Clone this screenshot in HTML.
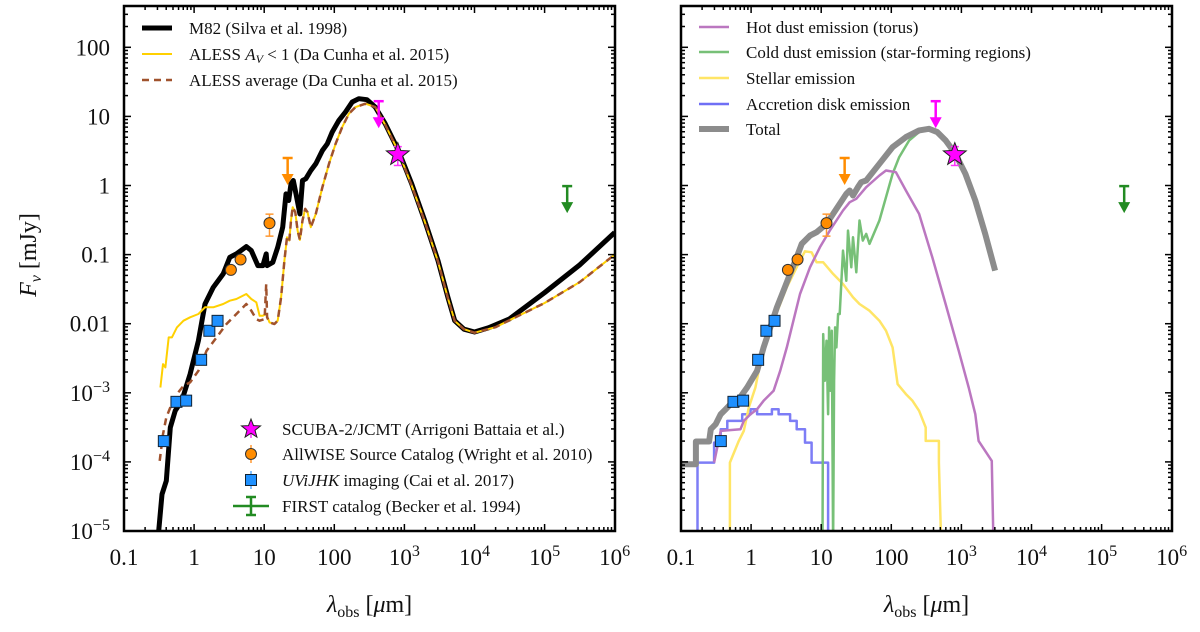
<!DOCTYPE html>
<html><head><meta charset="utf-8"><style>
html,body{margin:0;padding:0;background:#fff;}
svg text{font-family:"Liberation Serif",serif;fill:#111;}
</style></head><body>
<svg id="chart" width="1200" height="627" viewBox="0 0 1200 627" xmlns="http://www.w3.org/2000/svg"></svg>
<script>
// ===== data (log10 wavelength [um], log10 flux [mJy]) =====
const m82LogLam = [-0.505,-0.458,-0.396,-0.34,-0.269,-0.175,-0.057,0.061,0.156,0.274,0.415,0.509,0.604,0.745,0.816,0.91,0.981,1.028,1.042,1.123,1.193,1.264,1.311,1.349,1.382,1.415,1.453,1.509,1.547,1.594,1.665,1.736,1.83,1.9,1.97,2.066,2.16,2.255,2.35,2.467,2.585,2.726,2.915,3.104,3.29,3.48,3.62,3.717,3.85,4.0,4.2,4.5,5.0,5.5,6.0];
const m82LogF = [-5,-4.469,-4.275,-3.502,-3.261,-3.116,-2.729,-2.246,-1.715,-1.473,-1.28,-1.039,-0.99,-0.884,-0.942,-1.159,-1.159,-0.99,-1.159,-1.111,-0.894,-0.604,-0.121,-0.217,0.024,0.072,-0.121,-0.411,0.072,0.097,0.217,0.314,0.507,0.604,0.773,0.942,1.063,1.208,1.256,1.242,1.135,0.894,0.507,0.024,-0.507,-1.087,-1.618,-1.957,-2.08,-2.12,-2.06,-1.93,-1.55,-1.15,-0.68];
const alessLowLogLam = [-0.481,-0.443,-0.41,-0.363,-0.316,-0.245,-0.151,-0.057,0.061,0.156,0.274,0.415,0.509,0.604,0.745,0.816,0.887,0.934,0.981,1.028,1.075,1.146,1.193,1.241,1.288,1.325,1.358,1.382,1.406,1.443,1.476,1.509,1.547,1.585,1.618,1.665,1.736,1.83,1.925,2.019,2.113,2.208,2.302,2.443,2.585,2.726,2.915,3.104,3.29,3.48,3.62,3.717,3.85,4.0,4.3,4.5,5.0,5.5,6.0];
const alessLowLogF = [-2.923,-2.585,-2.633,-2.198,-2.198,-2.053,-1.957,-1.908,-1.86,-1.763,-1.763,-1.715,-1.667,-1.643,-1.57,-1.643,-1.691,-1.884,-1.884,-1.86,-1.981,-2.005,-1.957,-1.618,-1.087,-0.749,-0.797,-0.507,-0.314,-0.386,-0.652,-0.787,-0.507,-0.338,-0.386,-0.604,-0.411,-0.024,0.314,0.604,0.845,1.039,1.135,1.184,1.135,0.88,0.49,0.0,-0.52,-1.1,-1.63,-1.96,-2.08,-2.13,-2.05,-1.95,-1.7,-1.4,-1.0];
const alessAvgLogLam = [-0.491,-0.443,-0.396,-0.34,-0.245,-0.151,-0.057,0.061,0.179,0.321,0.462,0.604,0.745,0.816,0.887,0.934,1.005,1.028,1.042,1.075,1.146,1.193,1.241,1.288,1.325,1.358,1.382,1.406,1.443,1.476,1.509,1.547,1.585,1.618,1.665,1.736,1.83,1.925,2.019,2.113,2.208,2.302,2.443,2.585,2.726,2.915,3.104,3.29,3.48,3.62,3.717,3.85,4.0,4.3,4.5,5.0,5.5,6.0];
const alessAvgLogF = [-3.986,-3.599,-3.357,-3.213,-3.019,-2.899,-2.85,-2.681,-2.391,-2.198,-2.005,-1.86,-1.715,-1.812,-1.933,-1.957,-1.933,-1.425,-1.908,-1.981,-2.005,-1.957,-1.618,-1.087,-0.749,-0.797,-0.507,-0.314,-0.386,-0.652,-0.787,-0.507,-0.338,-0.386,-0.604,-0.411,-0.024,0.314,0.604,0.845,1.039,1.135,1.184,1.135,0.88,0.49,0.0,-0.52,-1.1,-1.63,-1.96,-2.08,-2.13,-2.05,-1.95,-1.7,-1.4,-1.0];
const totalLogLam = [-1,-0.788,-0.788,-0.764,-0.599,-0.575,-0.505,-0.434,-0.363,-0.292,-0.175,-0.057,0.085,0.179,0.274,0.368,0.462,0.557,0.651,0.722,0.84,0.934,1.075,1.264,1.358,1.406,1.453,1.524,1.571,1.642,1.83,2.019,2.208,2.396,2.538,2.656,2.774,2.915,3.057,3.198,3.34,3.481];
const totalLogF = [-4.034,-4.034,-3.705,-3.705,-3.705,-3.527,-3.454,-3.309,-3.237,-3.164,-3.092,-2.923,-2.681,-2.343,-2.053,-1.763,-1.522,-1.28,-1.039,-0.845,-0.725,-0.676,-0.556,-0.266,-0.121,-0.072,-0.145,-0.024,0.048,0.072,0.314,0.556,0.7,0.797,0.821,0.773,0.652,0.459,0.169,-0.217,-0.7,-1.232];
const hotLogLam = [-0.528,-0.434,-0.151,-0.104,-0.009,0.085,0.179,0.321,0.415,0.509,0.604,0.698,0.84,0.981,1.123,1.311,1.406,1.5,1.642,1.83,1.925,2.066,2.208,2.396,2.585,2.774,2.962,3.104,3.198,3.245,3.434,3.434,3.458];
const hotLogF = [-4.01,-3.551,-3.527,-3.406,-3.309,-3.237,-3.116,-2.971,-2.681,-2.343,-1.957,-1.57,-1.184,-0.894,-0.652,-0.362,-0.242,-0.193,-0.024,0.145,0.217,0.193,-0.072,-0.411,-1.039,-1.715,-2.391,-2.923,-3.309,-3.696,-3.986,-4.01,-5.2];
const coldLogLam = [1.019,1.028,1.052,1.075,1.099,1.113,1.132,1.151,1.17,1.184,1.198,1.217,1.241,1.264,1.311,1.358,1.382,1.429,1.453,1.5,1.547,1.594,1.642,1.689,1.83,1.925,2.019,2.113,2.255,2.396,2.491,2.538,2.656,2.774,2.915,3.057,3.198,3.34,3.481];
const coldLogF = [-5.2,-2.15,-2.826,-2.246,-3.309,-2.053,-2.971,-2.101,-5.2,-2.826,-2.053,-2.343,-1.86,-1.86,-0.942,-1.377,-0.652,-1.184,-0.749,-1.256,-0.507,-0.797,-0.7,-0.845,-0.507,-0.169,0.169,0.411,0.652,0.773,0.821,0.82,0.77,0.65,0.455,0.165,-0.22,-0.7,-1.232];
const stellarLogLam = [-0.302,-0.302,-0.175,-0.104,-0.033,0.061,0.108,0.156,0.226,0.321,0.415,0.509,0.604,0.698,0.769,0.863,0.934,1.028,1.17,1.311,1.453,1.547,1.689,1.83,1.925,2.019,2.09,2.208,2.302,2.396,2.491,2.491,2.679,2.679,2.712];
const stellarLogF = [-5.2,-4.01,-3.696,-3.551,-3.213,-2.923,-2.681,-2.44,-2.246,-1.957,-1.715,-1.473,-1.28,-1.087,-0.952,-0.966,-1.111,-1.111,-1.28,-1.425,-1.618,-1.715,-1.812,-1.957,-2.101,-2.343,-2.874,-3.019,-3.116,-3.261,-3.5,-3.696,-3.696,-4.01,-5.2];
const diskLogLam = [-0.764,-0.764,-0.528,-0.528,-0.434,-0.434,-0.34,-0.34,-0.127,-0.127,-0.009,-0.009,0.085,0.085,0.297,0.297,0.392,0.392,0.557,0.557,0.651,0.651,0.769,0.769,0.863,0.863,1.099,1.099];
const diskLogF = [-5.2,-4.01,-4.01,-3.72,-3.72,-3.527,-3.527,-3.406,-3.406,-3.309,-3.309,-3.237,-3.237,-3.309,-3.309,-3.237,-3.237,-3.309,-3.309,-3.406,-3.406,-3.527,-3.527,-3.72,-3.72,-4.01,-4.01,-5.2];
// photometry
const uvLam = [0.37,0.56,0.77,1.26,1.65,2.16];
const uvFlux = [2.0e-4,7.4e-4,7.7e-4,3.0e-3,7.9e-3,1.1e-2];
const wiseLam = [3.35,4.6,11.9];
const wiseFlux = [0.06,0.085,0.285];
const wiseErr = [0,0,0.1];
const wiseLimLam = [21.6]; const wiseLimFlux = [2.5];
const scubaLam = [805]; const scubaFlux = [2.8]; const scubaErr = [0.85];
const scubaLimLam = [430]; const scubaLimFlux = [16.6];
const firstLimLam = [2.1e5]; const firstLimFlux = [0.98];
const xTickVals = [0.1,1,10,100,1e3,1e4,1e5,1e6];
const xTickLabels = ['0.1','1','10','100','10^3','10^4','10^5','10^6'];
const yTickVals = [1e-5,1e-4,1e-3,0.01,0.1,1,10,100];
const yTickLabels = ['10^-5','10^-4','10^-3','0.01','0.1','1','10','100'];

const NS='http://www.w3.org/2000/svg';
const svg=document.getElementById('chart');
function mk(tag,attrs,parent){const e=document.createElementNS(NS,tag);for(const k in attrs)e.setAttribute(k,attrs[k]);(parent||svg).appendChild(e);return e;}
const TOP=6,BOT=531,W=491,LOGYMIN=-5,DEC_Y=69.1,DEC_X=70.1;
function panel(x0){
  return {x:v=>x0+DEC_X*(Math.log10(v)+1), lx:l=>x0+DEC_X*(l+1), y:v=>BOT-DEC_Y*(Math.log10(v)-LOGYMIN), ly:l=>BOT-DEC_Y*(l-LOGYMIN), x0:x0};
}
const P1=panel(124), P2=panel(681);
function clip(id,x0){const d=mk('defs',{});const c=mk('clipPath',{id:id},d);mk('rect',{x:x0,y:TOP,width:W,height:BOT-TOP},c);}
clip('c1',124);clip('c2',681);
function curve(P,lams,fs,style,name,cid){
  let d='';for(let i=0;i<lams.length;i++){d+=(i?'L':'M')+P.lx(lams[i]).toFixed(1)+','+P.ly(fs[i]).toFixed(1);}
  const p=mk('path',Object.assign({d:d,fill:'none','clip-path':'url(#'+cid+')','stroke-linejoin':'round'},style));
  
  
  return p;
}
function txt(x,y,s,size,anchor,parent,name){
  const t=mk('text',{x:x,y:y,'font-size':size,'text-anchor':anchor||'start'},parent);
  const m=s.match(/^(.*)\^(.*)$/);
  if(m){t.textContent=m[1];const ts=mk('tspan',{dy:-9,'font-size':size*0.7},t);ts.textContent=m[2].replace('-','−');}
  else t.textContent=s;
  
  
  return t;
}
function axes(P,showY,pname){
  const x0=P.x0;
  const g=mk('g',{});
  
  
  for(let e=-1;e<6;e++)for(let m=1;m<10;m++){
    const v=m*Math.pow(10,e);const px=P.x(v);const L=m===1?7:4;
    mk('line',{x1:px,x2:px,y1:BOT,y2:BOT-L,stroke:'#000','stroke-width':1.5},g);
    mk('line',{x1:px,x2:px,y1:TOP,y2:TOP+L,stroke:'#000','stroke-width':1.5},g);
  }
  for(let e=-5;e<3;e++)for(let m=1;m<10;m++){
    const v=m*Math.pow(10,e);const py=P.y(v);if(py<TOP)continue;const L=m===1?7:4;
    mk('line',{x1:x0,x2:x0+L,y1:py,y2:py,stroke:'#000','stroke-width':1.5},g);
    mk('line',{x1:x0+W,x2:x0+W-L,y1:py,y2:py,stroke:'#000','stroke-width':1.5},g);
  }
  mk('rect',{x:x0,y:TOP,width:W,height:BOT-TOP,fill:'none',stroke:'#000','stroke-width':2.5},g);
  xTickVals.forEach((v,i)=>txt(P.x(v),565,xTickLabels[i],23,'middle',g,'x-tick-label'));
  if(showY) yTickVals.forEach((v,i)=>txt(110,P.y(v)+8,yTickLabels[i],23,'end',g,'y-tick-label'));
  const t=mk('text',{x:x0+W/2,y:612,'font-size':24,'text-anchor':'middle'},g);
  
  
  t.innerHTML='<tspan font-style="italic">λ</tspan><tspan font-size="16" dy="5">obs</tspan><tspan dy="-5"> [</tspan><tspan font-style="italic">μ</tspan>m]';
}
function points(P,lams,fl,errs,kind,name){
  lams.forEach((l,i)=>{
    const x=P.x(l),y=P.y(fl[i]);
    if(errs&&errs[i]){const e=errs[i];const col=kind==='star'?'#ff33ff':'#ff9933';
      mk('line',{x1:x,x2:x,y1:P.y(fl[i]+e),y2:P.y(Math.max(fl[i]-e,1e-9)),stroke:col,'stroke-width':1.5});
      [fl[i]+e,fl[i]-e].forEach(v=>mk('line',{x1:x-4,x2:x+4,y1:P.y(v),y2:P.y(v),stroke:col,'stroke-width':1.5}));}
    let el;
    if(kind==='sq') el=mk('rect',{x:x-5.5,y:y-5.5,width:11,height:11,fill:'#1e90ff',stroke:'#123','stroke-width':1});
    else if(kind==='circ') el=mk('circle',{cx:x,cy:y,r:5.5,fill:'#ff8c00',stroke:'#333','stroke-width':1});
    else el=star(x,y,12);
    
    
  });
}
function star(x,y,R){let d='';for(let k=0;k<10;k++){const r=k%2?R*0.42:R;const a=-Math.PI/2+k*Math.PI/5;d+=(k?'L':'M')+(x+r*Math.cos(a)).toFixed(1)+','+(y+r*Math.sin(a)).toFixed(1);}
  return mk('path',{d:d+'Z',fill:'#ff00ff',stroke:'#222','stroke-width':1});}
function limit(P,lams,fl,col,name){
  lams.forEach((l,i)=>{const x=P.x(l),y=P.y(fl[i]);
    const g=mk('g',{});
    
    
    mk('line',{x1:x-5,x2:x+5,y1:y,y2:y,stroke:col,'stroke-width':2.5},g);
    mk('line',{x1:x,x2:x,y1:y,y2:y+20,stroke:col,'stroke-width':2.5},g);
    mk('path',{d:`M${x-6},${y+16}L${x+6},${y+16}L${x},${y+27}Z`,fill:col},g);});
}
function obs(P){
  points(P,uvLam,uvFlux,null,'sq','uvijhk-point');
  points(P,wiseLam,wiseFlux,wiseErr,'circ','allwise-point');
  limit(P,wiseLimLam,wiseLimFlux,'#ff8c00','allwise-upper-limit');
  limit(P,scubaLimLam,scubaLimFlux,'#ff00ff','scuba-upper-limit');
  points(P,scubaLam,scubaFlux,scubaErr,'star','scuba-point');
  limit(P,firstLimLam,firstLimFlux,'#228b22','first-upper-limit');
}
// left panel
curve(P1,m82LogLam,m82LogF,{stroke:'#000','stroke-width':5},'m82-curve','c1');
curve(P1,alessLowLogLam,alessLowLogF,{stroke:'#ffd000','stroke-width':2},'aless-av-curve','c1');
curve(P1,alessAvgLogLam,alessAvgLogF,{stroke:'#a0522d','stroke-width':2.5,'stroke-dasharray':'7,5'},'aless-average-curve','c1');
obs(P1);
axes(P1,true,'left');
// right panel
curve(P2,diskLogLam,diskLogF,{stroke:'#6f6ff5','stroke-width':2.5,'stroke-opacity':0.9},'accretion-disk-curve','c2');
curve(P2,stellarLogLam,stellarLogF,{stroke:'#ffe566','stroke-width':2.5},'stellar-curve','c2');
curve(P2,coldLogLam,coldLogF,{stroke:'#77c077','stroke-width':2.5},'cold-dust-curve','c2');
curve(P2,hotLogLam,hotLogF,{stroke:'#bb77c0','stroke-width':2.5},'hot-dust-curve','c2');
curve(P2,totalLogLam,totalLogF,{stroke:'#8c8c8c','stroke-width':6},'total-curve','c2');
obs(P2);
axes(P2,false,'right');
// y axis title
const yt=mk('text',{x:0,y:0,'font-size':24,'text-anchor':'middle',transform:'translate(36,255) rotate(-90)'});


yt.innerHTML='<tspan font-style="italic">F</tspan><tspan font-size="16" dy="5" font-style="italic">ν</tspan><tspan dy="-5"> [mJy]</tspan>';
// legends
function legLine(x,y,style,label,name,html){
  const g=mk('g',{});
  
  
  mk('line',Object.assign({x1:x,x2:x+30,y1:y,y2:y},style),g);
  const t=mk('text',{x:x+47,y:y+6,'font-size':17},g);
  if(html) t.innerHTML=html; else t.textContent=label;
}
legLine(142,28,{stroke:'#000','stroke-width':5},'M82 (Silva et al. 1998)','legend-m82');
legLine(142,54,{stroke:'#ffd000','stroke-width':2},'','legend-aless-av','ALESS <tspan font-style="italic">A</tspan><tspan font-size="12" dy="3" font-style="italic">V</tspan><tspan dy="-3"> &lt; 1 (Da Cunha et al. 2015)</tspan>');
legLine(142,80,{stroke:'#a0522d','stroke-width':2.5,'stroke-dasharray':'7,5'},'ALESS average (Da Cunha et al. 2015)','legend-aless-average');
legLine(699,27,{stroke:'#bb77c0','stroke-width':2.5},'Hot dust emission (torus)','legend-hot-dust');
legLine(699,52,{stroke:'#77c077','stroke-width':2.5},'Cold dust emission (star-forming regions)','legend-cold-dust');
legLine(699,78,{stroke:'#ffe566','stroke-width':2.5},'Stellar emission','legend-stellar');
legLine(699,104,{stroke:'#6f6ff5','stroke-width':2.5},'Accretion disk emission','legend-accretion-disk');
legLine(699,129,{stroke:'#8c8c8c','stroke-width':6},'Total','legend-total');
// bottom-left legend
function legMark(y,kind,label,name,html){
  const g=mk('g',{});
  
  
  const x=251;
  if(kind==='star'){mk('line',{x1:x,x2:x,y1:y-9,y2:y+9,stroke:'#ff33ff','stroke-width':1.5},g);g.appendChild(star(x,y,10));}
  else if(kind==='circ'){mk('line',{x1:x,x2:x,y1:y-9,y2:y+9,stroke:'#ff9933','stroke-width':1.5},g);mk('circle',{cx:x,cy:y,r:5.5,fill:'#ff8c00',stroke:'#333'},g);}
  else if(kind==='sq'){mk('line',{x1:x,x2:x,y1:y-9,y2:y+9,stroke:'#55aaff','stroke-width':1.5},g);mk('rect',{x:x-5.5,y:y-5.5,width:11,height:11,fill:'#1e90ff',stroke:'#123'},g);}
  else{mk('line',{x1:x-18,x2:x+18,y1:y,y2:y,stroke:'#228b22','stroke-width':2.5},g);mk('line',{x1:x,x2:x,y1:y-9,y2:y+9,stroke:'#228b22','stroke-width':2.5},g);
    mk('line',{x1:x-5,x2:x+5,y1:y-9,y2:y-9,stroke:'#228b22','stroke-width':2.5},g);mk('line',{x1:x-5,x2:x+5,y1:y+9,y2:y+9,stroke:'#228b22','stroke-width':2.5},g);}
  const t=mk('text',{x:282,y:y+6,'font-size':17},g);
  if(html)t.innerHTML=html;else t.textContent=label;
}
legMark(429,'star','SCUBA-2/JCMT (Arrigoni Battaia et al.)','legend-scuba');
legMark(454,'circ','AllWISE Source Catalog (Wright et al. 2010)','legend-allwise');
legMark(480,'sq','','legend-uvijhk','<tspan font-style="italic">UViJHK</tspan> imaging (Cai et al. 2017)');
legMark(506,'line','FIRST catalog (Becker et al. 1994)','legend-first');
</script>
</body></html>
